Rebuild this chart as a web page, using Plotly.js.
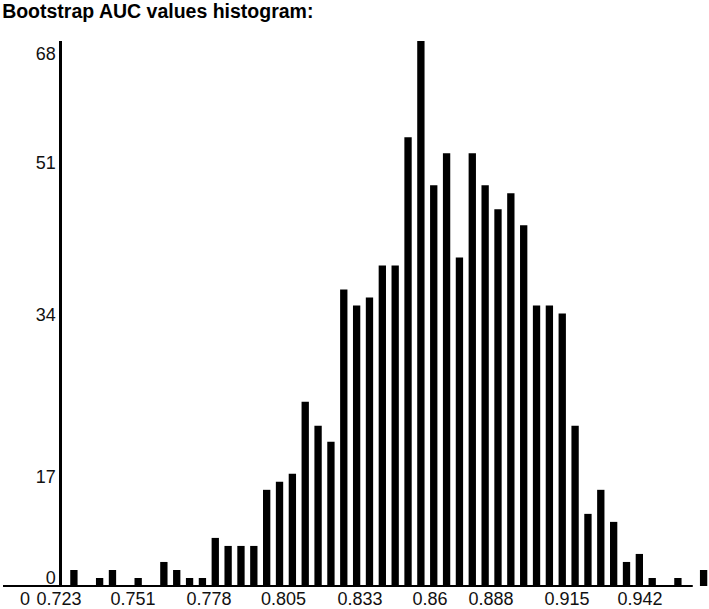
<!DOCTYPE html>
<html>
<head>
<meta charset="utf-8">
<script src="https://cdn.plot.ly/plotly-3.0.1.min.js"></script>
<style>html,body{margin:0;padding:0;background:#fff;}#chart{width:709px;height:609px;}</style>
</head>
<body>
<div id="chart"></div>
<script>
// Bootstrap AUC histogram: counts per bin (bin index 0..49)
var binIndex = [0,1,2,3,4,5,6,7,8,9,10,11,12,13,14,15,16,17,18,19,20,21,22,23,24,25,26,27,28,29,30,31,32,33,34,35,36,37,38,39,40,41,42,43,44,45,46,47,48,49];
var counts = [2,0,1,2,0,1,0,3,2,1,1,6,5,5,5,12,13,14,23,20,18,37,35,36,40,40,56,68,50,54,41,54,50,47,49,45,35,35,34,20,9,12,8,3,4,1,0,1,0,2];

// x tick labels (placed in bin-index units as in the reference)
var xTickPos = [-3.81,-1.16,4.60,10.51,16.31,22.26,27.71,32.46,38.37,44.05];
var xTickText = ["0","0.723","0.751","0.778","0.805","0.833","0.86","0.888","0.915","0.942"];

// y tick labels (positions as they appear in the reference)
var yTickPos = [1.0,13.6,33.8,52.8,66.4];
var yTickText = ["0","17","34","51","68"];

var fontFam = "Liberation Sans, Arial, Helvetica, sans-serif";

var trace = {
  type: "bar",
  x: binIndex,
  y: counts,
  width: 0.57,
  marker: {color: "#000000", line: {width: 0}},
  hoverinfo: "none"
};

var layout = {
  width: 709,
  height: 609,
  margin: {l: 3, r: 0, t: 41, b: 23, pad: 0},
  paper_bgcolor: "#ffffff",
  plot_bgcolor: "#ffffff",
  showlegend: false,
  title: {
    text: "<b>Bootstrap AUC values histogram:</b>",
    font: {family: fontFam, size: 19.5, color: "#000000"},
    xref: "container", x: 0.003, xanchor: "left",
    yref: "container", y: 0.981, yanchor: "middle"
  },
  xaxis: {
    range: [-5.518, 49.42],
    showgrid: false,
    zeroline: false,
    showline: false,
    ticks: "",
    tickmode: "array",
    tickvals: xTickPos,
    ticktext: xTickText,
    tickfont: {family: fontFam, size: 18, color: "#111111"},
    fixedrange: true
  },
  yaxis: {
    range: [0, 68],
    anchor: "free",
    position: 0.0814,
    showgrid: false,
    zeroline: false,
    showline: true,
    linecolor: "#000000",
    linewidth: 2.5,
    ticks: "",
    tickmode: "array",
    tickvals: yTickPos,
    ticktext: yTickText,
    tickfont: {family: fontFam, size: 18, color: "#111111"},
    fixedrange: true
  },
  shapes: [{
    type: "line", xref: "paper", yref: "paper",
    x0: 0, x1: 0.977, y0: 0, y1: 0,
    line: {color: "#000000", width: 2}
  }]
};

Plotly.newPlot("chart", [trace], layout, {staticPlot: true, displayModeBar: false});
</script>
</body>
</html>
